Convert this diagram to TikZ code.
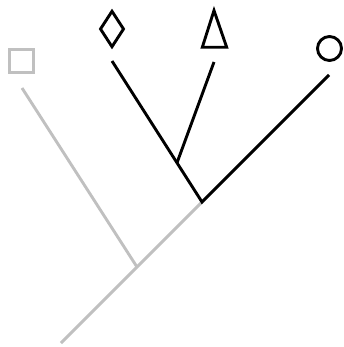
\documentclass[tikz,border=0pt]{standalone}
\usetikzlibrary{shapes.geometric}
\definecolor{fadegray}{RGB}{192,192,192}
\begin{document}
\begin{tikzpicture}[x=1pt,y=-1pt,
  branch/.style={line width=2.9pt},
  leaf/.style={draw,line width=2.9pt,inner sep=0pt}]
\useasboundingbox (0,0) rectangle (344,347);
% leaves
\node[leaf,draw=fadegray,rectangle,minimum width=24pt,minimum height=23pt] (sq) at (21.5,61) {};
\node[leaf,diamond,minimum width=24.2pt,minimum height=36.6pt] (dia) at (112,29) {};
\node[leaf,circle,minimum size=24pt] (circ) at (329.5,48.5) {};
\draw[branch] (202.3,47.3) -- (214,10.5) -- (226.7,47.3) -- cycle;
% branch tips and junctions
\coordinate (tipS) at (22,88);
\coordinate (tipD) at (112,61);
\coordinate (tipT) at (214,62);
\coordinate (tipC) at (329,75);
\coordinate (root) at (61,343);
\coordinate (j1) at (137,267);
\coordinate (j2) at (202,202);
\coordinate (j3) at (177,162.8);
% tree
\draw[branch,fadegray] (root) -- (j2);
\draw[branch,fadegray] (j1) -- (tipS);
\draw[branch] (tipD) -- (j2) -- (tipC);
\draw[branch] (j3) -- (tipT);
\end{tikzpicture}
\end{document}
